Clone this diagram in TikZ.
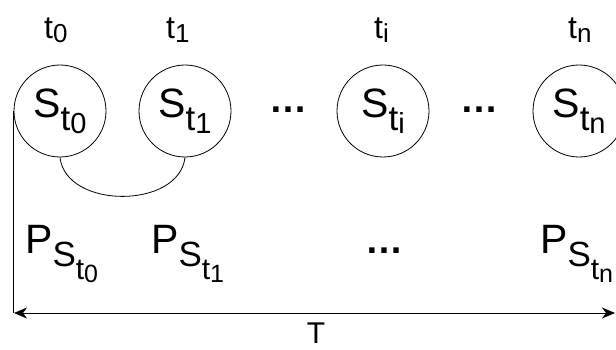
\documentclass[tikz,border=0pt]{standalone}
\usepackage{fontspec}
\setmainfont{Liberation Sans}
\usetikzlibrary{arrows.meta}
\newcommand{\fs}[1]{\fontsize{#1}{#1}\selectfont}
\begin{document}
\begin{tikzpicture}[x=1pt,y=-1pt,
  state/.style={draw,circle,line width=0.8pt,minimum size=92pt,inner sep=0pt},
  lbl/.style={inner sep=0pt,anchor=base west},
  dots/.style={inner sep=0pt,anchor=base,font=\bfseries},
  link/.style={draw,line width=0.8pt},
  axis/.style={draw,line width=0.8pt,{Stealth[length=13pt,width=11pt,inset=4pt]}-{Stealth[length=13pt,width=11pt,inset=4pt]}}]
\useasboundingbox (0,0) rectangle (616,350);
% time labels
\node[lbl] (lt0) at (44,39) {\fs{32}t\raisebox{-4pt}{\fs{26}0}};
\node[lbl] (lt1) at (166,39) {\fs{32}t\raisebox{-4pt}{\fs{26}1}};
\node[lbl] (lti) at (374,39) {\fs{32}t\raisebox{-4pt}{\fs{26}i}};
\node[lbl] (ltn) at (568,39) {\fs{32}t\raisebox{-4pt}{\fs{26}n}};
% states
\node[state] (c0) at (60,111) {\fs{41}S\raisebox{-13pt}{\fs{35}t\raisebox{-3pt}{\fs{29}0}}};
\node[state] (c1) at (185,111) {\fs{41}S\raisebox{-13pt}{\fs{35}t\raisebox{-3pt}{\fs{29}1}}};
\node[state] (ci) at (383,111) {\fs{41}S\raisebox{-13pt}{\fs{35}t\raisebox{-3pt}{\fs{29}i}}};
\node[state] (cn) at (579,111) {\fs{41}S\raisebox{-13pt}{\fs{35}t\raisebox{-3pt}{\fs{29}n}}};
\node[dots] (d1) at (288,113) {\fs{38}…};
\node[dots] (d2) at (479,113) {\fs{38}…};
% probabilities
\node[lbl] (p0) at (25,253) {\fs{41}P\raisebox{-13pt}{\fs{35}S\raisebox{-13pt}{\fs{30}t\raisebox{-3pt}{\fs{25}0}}}};
\node[lbl] (p1) at (151,253) {\fs{41}P\raisebox{-13pt}{\fs{35}S\raisebox{-13pt}{\fs{30}t\raisebox{-3pt}{\fs{25}1}}}};
\node[dots] (d3) at (384,253) {\fs{38}…};
\node[lbl] (pn) at (540,253) {\fs{41}P\raisebox{-13pt}{\fs{35}S\raisebox{-13pt}{\fs{30}t\raisebox{-3pt}{\fs{25}n}}}};
% connectors
\draw[link] (c0.south) .. controls +(6,52) and +(-6,52) .. (c1.south);
\coordinate (L) at (14,313);
\coordinate (R) at (615,313);
\draw[link] (c0.west) -- (c0.west |- L);
\draw[axis] (L) -- (R);
\node[inner sep=0pt,anchor=base] (T) at (316,343) {\fs{30}T};
\end{tikzpicture}
\end{document}
